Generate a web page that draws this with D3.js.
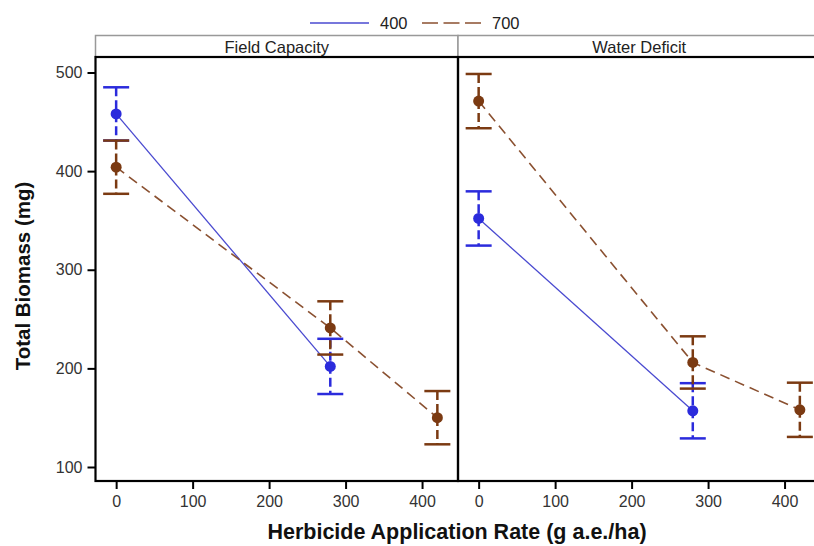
<!DOCTYPE html>
<html>
<head>
<meta charset="utf-8">
<script src="https://cdn.jsdelivr.net/npm/d3@7"></script>
<style>
  body { margin: 0; background: #fff; }
  text { font-family: "Liberation Sans", Arial, sans-serif; }
</style>
</head>
<body>
<div id="chart"></div>
<script>
var width = 814,
    height = 546

// data
var panels = ["Field Capacity", "Water Deficit"];
var seriesNames = ["400", "700"];
var rates400 = [0, 280];
var rates700 = [0, 280, 420];
var fc400 = [458, 202];
var fc400Err = [27, 28];
var fc700 = [404, 241, 150];
var fc700Err = [27, 27, 27];
var wd400 = [352, 157];
var wd400Err = [27.5, 28];
var wd700 = [471, 206, 158];
var wd700Err = [27.5, 26.5, 27.5];
var xTicks = [0, 100, 200, 300, 400];
var yTicks = [100, 200, 300, 400, 500];

var colors = { "400": "#2b2bdc", "700": "#7b3a12" };
var lineColors = { "400": "#4a4ad0", "700": "#8a5030" };

var svg = d3.select("#chart").append("svg")
    .attr("width", width)
    .attr("height", height);

var plotLeft = 95.5, panelW = 362.5, plotTop = 57, plotBottom = 481, headerTop = 35.5;

var y = d3.scaleLinear().domain([100, 500]).range([467, 72.5]);

function makeX(i) {
  var x0 = plotLeft + i * panelW;
  return d3.scaleLinear().domain([-27, 447]).range([x0, x0 + panelW]);
}

var data = [
  [{ name: "400", x: rates400, v: fc400, e: fc400Err }, { name: "700", x: rates700, v: fc700, e: fc700Err }],
  [{ name: "400", x: rates400, v: wd400, e: wd400Err }, { name: "700", x: rates700, v: wd700, e: wd700Err }]
];

panels.forEach(function(p, i) {
  var x = makeX(i);
  var x0 = plotLeft + i * panelW;
  var g = svg.append("g");

  // header strip
  g.append("rect")
    .attr("x", x0).attr("y", headerTop)
    .attr("width", panelW).attr("height", plotTop - headerTop)
    .attr("fill", "#fff").attr("stroke", "#999").attr("stroke-width", 1.5);
  g.append("text")
    .attr("x", x0 + panelW / 2).attr("y", plotTop - 4.5)
    .attr("text-anchor", "middle")
    .attr("font-size", 16.5).attr("fill", "#222")
    .text(p);

  // series
  data[i].forEach(function(s) {
    var pts = s.x.map(function(d, j) { return { x: d, v: s.v[j], e: s.e[j] }; });
    var c = colors[s.name];

    g.append("path")
      .datum(pts)
      .attr("fill", "none")
      .attr("stroke", lineColors[s.name])
      .attr("stroke-width", s.name == "400" ? 1.3 : 1.6)
      .attr("stroke-dasharray", s.name == "700" ? "10,6" : null)
      .attr("d", d3.line().x(function(d) { return x(d.x); }).y(function(d) { return y(d.v); }));

    var eb = g.selectAll(".eb" + s.name).data(pts).enter().append("g");
    eb.append("line")
      .attr("x1", function(d) { return x(d.x); }).attr("x2", function(d) { return x(d.x); })
      .attr("y1", function(d) { return y(d.v + d.e); }).attr("y2", function(d) { return y(d.v - d.e); })
      .attr("stroke", c).attr("stroke-width", 2.5)
      .attr("stroke-dasharray", "9,4");
    [1, -1].forEach(function(sg) {
      eb.append("line")
        .attr("x1", function(d) { return x(d.x) - 13; }).attr("x2", function(d) { return x(d.x) + 13; })
        .attr("y1", function(d) { return y(d.v + sg * d.e); }).attr("y2", function(d) { return y(d.v + sg * d.e); })
        .attr("stroke", c).attr("stroke-width", 2.5);
    });
    eb.append("circle")
      .attr("cx", function(d) { return x(d.x); })
      .attr("cy", function(d) { return y(d.v); })
      .attr("r", 5.5)
      .attr("fill", c);
  });

  // x axis
  var xa = svg.append("g")
    .attr("transform", "translate(0," + plotBottom + ")")
    .call(d3.axisBottom(x).tickValues(xTicks).tickSize(8).tickPadding(7));
  xa.select(".domain").remove();
  xa.selectAll(".tick line").attr("stroke", "#000").attr("stroke-width", 2);
  xa.selectAll(".tick text").attr("font-size", 16).attr("fill", "#333")
    .attr("font-family", "Liberation Sans, Arial, sans-serif");

  // frame
  g.append("rect")
    .attr("x", x0).attr("y", plotTop)
    .attr("width", panelW).attr("height", plotBottom - plotTop)
    .attr("fill", "none").attr("stroke", "#000").attr("stroke-width", 2.2);
});

// y axis
var ya = svg.append("g")
  .attr("transform", "translate(" + plotLeft + ",0)")
  .call(d3.axisLeft(y).tickValues(yTicks).tickSize(8).tickPadding(5));
ya.select(".domain").remove();
ya.selectAll(".tick line").attr("stroke", "#000").attr("stroke-width", 2);
ya.selectAll(".tick text").attr("font-size", 16).attr("fill", "#333")
  .attr("font-family", "Liberation Sans, Arial, sans-serif");

// axis titles
svg.append("text")
  .attr("transform", "translate(30," + 276 + ") rotate(-90)")
  .attr("text-anchor", "middle")
  .attr("font-size", 20.5).attr("font-weight", "bold").attr("fill", "#111")
  .text("Total Biomass (mg)");

svg.append("text")
  .attr("x", 457).attr("y", 539)
  .attr("text-anchor", "middle")
  .attr("font-size", 21.5).attr("font-weight", "bold").attr("fill", "#111")
  .text("Herbicide Application Rate (g a.e./ha)");

// legend
var leg = svg.append("g");
var legX = [310, 422];
seriesNames.forEach(function(n, i) {
  leg.append("line")
    .attr("x1", legX[i]).attr("x2", legX[i] + 59)
    .attr("y1", 23).attr("y2", 23)
    .attr("stroke", lineColors[n]).attr("stroke-width", 1.6)
    .attr("stroke-dasharray", n == "700" ? "16,5.5" : null);
  leg.append("text")
    .attr("x", legX[i] + 70).attr("y", 28.5)
    .attr("font-size", 16.5).attr("fill", "#222")
    .text(n);
});
</script>
</body>
</html>
